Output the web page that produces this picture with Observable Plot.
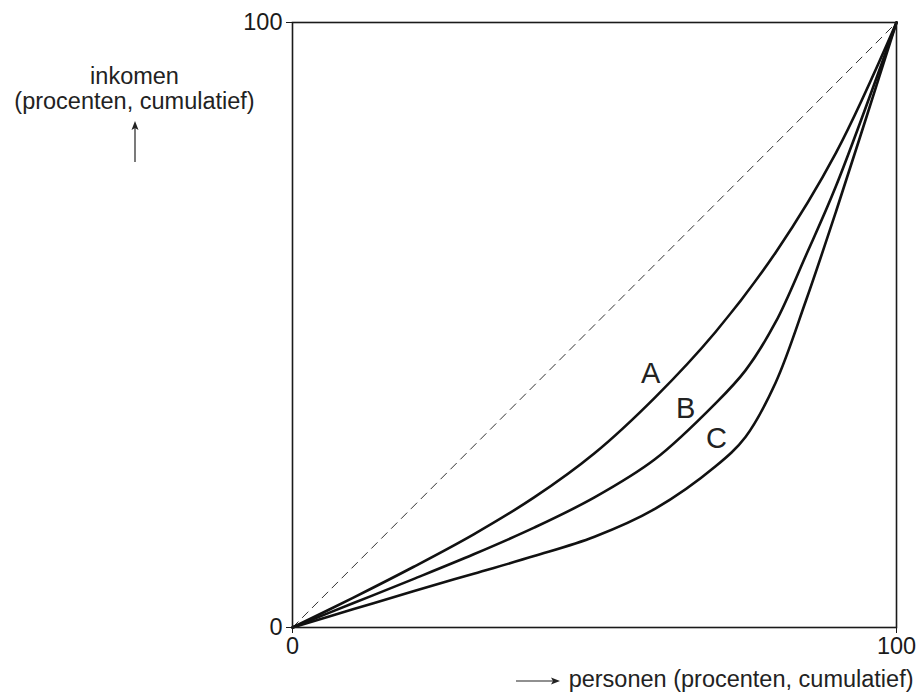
<!DOCTYPE html>
<html>
<head>
<meta charset="utf-8">
<script src="https://cdn.jsdelivr.net/npm/d3@7"></script>
<script src="https://cdn.jsdelivr.net/npm/@observablehq/plot@0.6"></script>
<style>
  html, body { margin: 0; padding: 0; background: #fff; }
  #chart { width: 919px; height: 692px; }
</style>
</head>
<body>
<div id="chart"></div>
<script>
// Lorenz curves (x = % persons cumulative, y = % income cumulative)
const curveA_x = [0, 10, 20, 30, 40, 50, 60, 70, 80, 90, 100];
const curveA_y = [0, 4.9, 10.0, 15.4, 21.5, 28.8, 38.0, 48.8, 62.0, 78.5, 100];

const curveB_x = [0, 10, 20, 30, 40, 50, 60, 70, 75, 80, 85, 90, 100];
const curveB_y = [0, 4.0, 8.0, 12.1, 16.5, 21.5, 27.8, 37.0, 42.5, 50.5, 61.5, 73.0, 100];

const curveC_x = [0, 10, 20, 30, 40, 50, 60, 70, 75, 80, 85, 90, 95, 100];
const curveC_y = [0, 3.0, 6.0, 8.9, 11.8, 15.0, 19.6, 26.6, 31.5, 40.5, 54.0, 68.8, 84.3, 100];

const equality_x = [0, 100];
const equality_y = [0, 100];

const labelNames = ["A", "B", "C"];
const labelX = [59.3, 65.1, 70.2];
const labelY = [42.0, 36.1, 31.2];

const xTicks = [0, 100];
const yTicks = [0, 100];

const yTitle = "inkomen\n(procenten, cumulatief)";
const xTitle = "personen (procenten, cumulatief)";

// build tables
const curves = [
  ...curveA_x.map((x, i) => ({series: "A", x, y: curveA_y[i]})),
  ...curveB_x.map((x, i) => ({series: "B", x, y: curveB_y[i]})),
  ...curveC_x.map((x, i) => ({series: "C", x, y: curveC_y[i]}))
];
const equality = equality_x.map((x, i) => ({x, y: equality_y[i]}));
const labels = labelNames.map((t, i) => ({t, x: labelX[i], y: labelY[i]}));

const font = "'Liberation Sans', Arial, Helvetica, sans-serif";

const plot = Plot.plot({
  width: 919,
  height: 692,
  marginLeft: 292,
  marginRight: 23,
  marginTop: 22,
  marginBottom: 65,
  style: {fontFamily: font, fontSize: "23.5px", color: "#1a1a1a", background: "#fff", overflow: "visible"},
  x: {domain: [0, 100], ticks: xTicks, tickSize: 6, tickPadding: 4, label: null},
  y: {domain: [0, 100], ticks: yTicks, tickSize: 6, tickPadding: 4, label: null},
  marks: [
    Plot.line(equality, {x: "x", y: "y", stroke: "#333", strokeWidth: 1, strokeDasharray: "8,6"}),
    Plot.line(curves, {x: "x", y: "y", z: "series", curve: "catmull-rom", stroke: "#111", strokeWidth: 2.6}),
    Plot.frame({stroke: "#1a1a1a", strokeWidth: 1.6}),
    Plot.text(labels, {x: "x", y: "y", text: "t", fontSize: 29, fill: "#222", textAnchor: "middle", lineAnchor: "middle"}),
    Plot.text([yTitle], {text: d => d, frameAnchor: "top-left", dx: -158, dy: 43, textAnchor: "middle", lineAnchor: "top", lineHeight: 1.08, fontSize: 23.5, fill: "#222"}),
    Plot.text([xTitle], {text: d => d, frameAnchor: "bottom-right", dx: 17, dy: 52, textAnchor: "end", lineAnchor: "middle", fontSize: 23.5, fill: "#222"})
  ]
});

document.getElementById("chart").appendChild(plot);

// decorative arrows next to the axis titles
const svg = d3.select(plot);
const g = svg.append("g").attr("stroke", "#222").attr("fill", "#222");
// x arrow (pointing right)
g.append("line").attr("x1", 516).attr("y1", 681).attr("x2", 553).attr("y2", 681).attr("stroke-width", 1.2);
g.append("path").attr("d", "M560,681 L551,677.5 L553,681 L551,684.5 Z").attr("stroke", "none");
// y arrow (pointing up)
g.append("line").attr("x1", 135).attr("y1", 162).attr("x2", 135).attr("y2", 128).attr("stroke-width", 1.2);
g.append("path").attr("d", "M135,121 L131.5,130 L135,128 L138.5,130 Z").attr("stroke", "none");
</script>
</body>
</html>
